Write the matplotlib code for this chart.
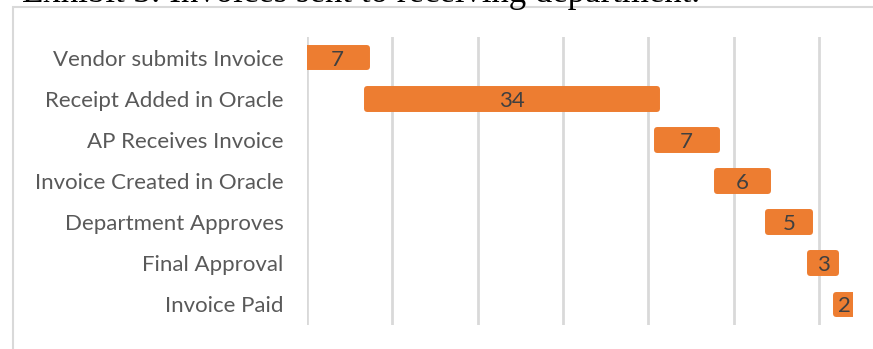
import matplotlib.pyplot as plt
from matplotlib.patches import Rectangle

# process steps and durations (days)
steps = ["Vendor submits Invoice", "Receipt Added in Oracle", "AP Receives Invoice",
         "Invoice Created in Oracle", "Department Approves", "Final Approval", "Invoice Paid"]
days = [7, 34, 7, 6, 5, 3, 2]

ORANGE = "#ED7D31"
GRID = "#D9D9D9"

fig = plt.figure(figsize=(8.73, 3.49), dpi=100)
ax = fig.add_axes([307 / 873, 1 - 325 / 349, 546 / 873, 288 / 349])

starts = []
total = 0
for d in days:
    starts.append(total)
    total += d

bars = ax.barh(range(len(steps)), days, left=starts, height=0.48,
               color=ORANGE, edgecolor=ORANGE, linewidth=4.3, zorder=3)
for b in bars:
    b.set_joinstyle("round")

for i, (s, d) in enumerate(zip(starts, days)):
    ax.text(s + d / 2, i, str(d), ha="center", va="center_baseline", fontsize=16,
            color="#404040", family="Lato", zorder=4)

ax.set_xlim(0, 64)
ax.set_ylim(len(steps) - 0.5, -0.5)
ax.set_xticks(range(0, 61, 10))
ax.set_xticklabels([])
ax.tick_params(axis="x", length=0)
ax.tick_params(axis="y", length=0, pad=17)
ax.set_yticks(range(len(steps)))
ax.set_yticklabels(steps, fontsize=16, color="#595959", family="Lato")
ax.grid(axis="x", color=GRID, linewidth=2, zorder=0)
for sp in ax.spines.values():
    sp.set_visible(False)

# chart area border (cut by the image edge)
fig.patches.append(Rectangle((13 / 873, -0.1), 1, 1 - 7 / 349 + 0.1, transform=fig.transFigure,
                             fill=False, edgecolor=GRID, linewidth=1.5))

fig.text(22 / 873, 1 - 1.5 / 349, "Exhibit 3: Invoices sent to receiving department.",
         family="Liberation Serif", fontsize=25, color="black", va="baseline", ha="left")

fig.savefig("out.png", dpi=100)
